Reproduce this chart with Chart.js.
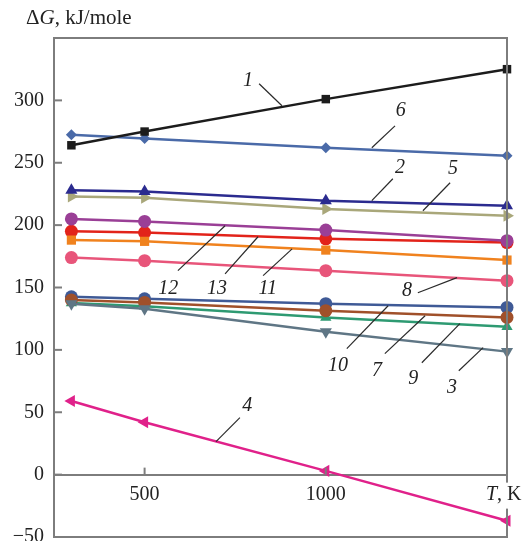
<!DOCTYPE html>
<html>
<head>
<meta charset="utf-8">
<script src="https://cdn.jsdelivr.net/npm/chart.js@4/dist/chart.umd.min.js"></script>
<style>
  html, body { margin: 0; padding: 0; background: #fff; overflow: hidden; }
  #wrap { width: 528px; height: 559px; }
</style>
</head>
<body>
<div id="wrap"><canvas id="gibbsChart" width="528" height="559"></canvas></div>
<script>
// temperatures, K
const temps = [298, 500, 1000, 1500];

// Gibbs energy for each reaction, kJ/mole
const curve1 = [264, 275, 301, 325];
const curve2 = [228, 227, 219.5, 215.5];
const curve3 = [137, 133, 114.6, 98.6];
const curve4 = [59, 42, 3, -37];
const curve5 = [223, 222, 213, 207.5];
const curve6 = [272.5, 269.5, 262, 255.6];
const curve7 = [140, 138, 131.4, 126];
const curve8 = [174, 171.5, 163.5, 155.5];
const curve9 = [137.5, 135, 126, 118.6];
const curve10 = [142.6, 141, 137, 134];
const curve11 = [188, 187, 180, 172];
const curve12 = [205, 203, 196, 187.5];
const curve13 = [195, 194, 189, 186];

const curveNames = ['1', '2', '3', '4', '5', '6', '7', '8', '9', '10', '11', '12', '13'];
const curves = [curve1, curve2, curve3, curve4, curve5, curve6, curve7,
                curve8, curve9, curve10, curve11, curve12, curve13];

const yTicks = [-50, 0, 50, 100, 150, 200, 250, 300];
const xTicks = [500, 1000];

// marker look per curve
const styles = {
    '1':  { color: '#1c1c1c', point: 'rect', rot: 0, r: 6 },
    '2':  { color: '#2b2b8f', point: 'triangle', rot: 0, r: 7 },
    '3':  { color: '#5f7685', point: 'triangle', rot: 180, r: 7 },
    '4':  { color: '#e0218a', point: 'triangle', rot: 270, r: 7 },
    '5':  { color: '#a9a77a', point: 'triangle', rot: 90, r: 7 },
    '6':  { color: '#4a6aa8', point: 'rectRot', rot: 0, r: 5.5 },
    '7':  { color: '#a0502a', point: 'circle', rot: 0, r: 6.5 },
    '8':  { color: '#e8557a', point: 'circle', rot: 0, r: 6.5 },
    '9':  { color: '#2e9a72', point: 'triangle', rot: 0, r: 6.5 },
    '10': { color: '#3f5a96', point: 'circle', rot: 0, r: 6.5 },
    '11': { color: '#f0821e', point: 'rect', rot: 0, r: 6.5 },
    '12': { color: '#9a3f96', point: 'circle', rot: 0, r: 6.5 },
    '13': { color: '#e2231a', point: 'circle', rot: 0, r: 6.5 }
};

// curve number labels, in data units: text spot and leader line ends
const callouts = [
    { text: '1',  t: [785, 315.7],  a: [816, 313.3],  b: [879, 295.7] },
    { text: '6',  t: [1207, 291.7], a: [1191, 279.6], b: [1127, 262] },
    { text: '2',  t: [1205, 246],   a: [1185, 237.2], b: [1127, 219.6] },
    { text: '5',  t: [1351, 245.2], a: [1343, 234],   b: [1268, 211.5] },
    { text: '12', t: [565, 149],    a: [592, 163.5],  b: [722, 199.5] },
    { text: '13', t: [700, 149],    a: [722, 161],    b: [813, 190.7] },
    { text: '11', t: [840, 149],    a: [827, 159.5],  b: [907, 181] },
    { text: '8',  t: [1224, 147.4], a: [1254, 145.8], b: [1362, 157.9] },
    { text: '10', t: [1034, 87.3],  a: [1058, 101],   b: [1172, 135.4] },
    { text: '7',  t: [1141, 83.3],  a: [1163, 97],    b: [1274, 127.4] },
    { text: '9',  t: [1241, 77],    a: [1265, 89.7],  b: [1370, 121] },
    { text: '3',  t: [1348, 69.7],  a: [1367, 83.3],  b: [1434, 101.8] },
    { text: '4',  t: [783, 55.3],   a: [763, 45.7],   b: [697, 26.4] }
];

const serif = '"Liberation Serif", "Times New Roman", serif';
const frameColor = '#7d7d7d';

const framePlugin = {
    id: 'frame',
    afterDraw(chart) {
        const ctx = chart.ctx;
        const area = chart.chartArea;
        const xs = chart.scales.x, ys = chart.scales.y;
        ctx.save();
        // box
        ctx.strokeStyle = frameColor;
        ctx.lineWidth = 2;
        ctx.strokeRect(area.left, area.top, area.right - area.left, area.bottom - area.top);
        // inward ticks
        yTicks.forEach(v => {
            const y = ys.getPixelForValue(v);
            ctx.beginPath();
            ctx.moveTo(area.left, y);
            ctx.lineTo(area.left + 8, y);
            ctx.stroke();
        });
        const y0 = ys.getPixelForValue(0);
        xTicks.forEach(v => {
            const x = xs.getPixelForValue(v);
            ctx.beginPath();
            ctx.moveTo(x, y0);
            ctx.lineTo(x, y0 - 7);
            ctx.stroke();
        });
        // "T, K" at the end of the axis
        ctx.font = 'italic 20px ' + serif;
        const wT = ctx.measureText('T').width;
        ctx.font = '20px ' + serif;
        const wRest = ctx.measureText(', K').width;
        const tx = area.right - 21;
        const ty = y0 + 20;
        ctx.fillStyle = '#fff';
        ctx.fillRect(tx - 1, ty - 12, wT + wRest + 4, 26);
        ctx.fillStyle = '#222';
        ctx.textBaseline = 'middle';
        ctx.textAlign = 'left';
        ctx.font = 'italic 20px ' + serif;
        ctx.fillText('T', tx, ty);
        ctx.font = '20px ' + serif;
        ctx.fillText(', K', tx + wT, ty);
        // title
        ctx.font = '21px ' + serif;
        ctx.fillText('\u0394', 26, 18);
        const wD = ctx.measureText('\u0394').width;
        ctx.font = 'italic 21px ' + serif;
        ctx.fillText('G', 26 + wD, 18);
        const wG = ctx.measureText('G').width;
        ctx.font = '21px ' + serif;
        ctx.fillText(', kJ/mole', 26 + wD + wG, 18);
        // callouts
        ctx.strokeStyle = '#2a2a2a';
        ctx.lineWidth = 1.2;
        ctx.textAlign = 'center';
        ctx.font = 'italic 20px ' + serif;
        callouts.forEach(c => {
            ctx.beginPath();
            ctx.moveTo(xs.getPixelForValue(c.a[0]), ys.getPixelForValue(c.a[1]));
            ctx.lineTo(xs.getPixelForValue(c.b[0]), ys.getPixelForValue(c.b[1]));
            ctx.stroke();
            ctx.fillText(c.text, xs.getPixelForValue(c.t[0]), ys.getPixelForValue(c.t[1]));
        });
        ctx.restore();
    }
};

const ctx = document.getElementById('gibbsChart').getContext('2d');

new Chart(ctx, {
    type: 'line',
    data: {
        datasets: curveNames.map((name, i) => ({
            label: name,
            data: temps.map((t, j) => ({ x: t, y: curves[i][j] })),
            borderColor: styles[name].color,
            backgroundColor: styles[name].color,
            borderWidth: 2.5,
            pointStyle: styles[name].point,
            pointRotation: styles[name].rot,
            pointRadius: styles[name].r,
            pointBorderWidth: 0,
            tension: 0,
            clip: false
        }))
    },
    options: {
        responsive: false,
        animation: false,
        layout: { padding: { left: 0, right: 21, top: 38, bottom: 14 } },
        plugins: {
            legend: { display: false },
            tooltip: { enabled: false }
        },
        scales: {
            x: {
                type: 'linear',
                position: { y: 0 },
                min: 250,
                max: 1500,
                afterBuildTicks: axis => { axis.ticks = xTicks.map(v => ({ value: v })); },
                grid: { display: false },
                border: { display: true, color: frameColor, width: 2 },
                ticks: {
                    font: { family: serif, size: 20 },
                    color: '#222',
                    padding: 0,
                    maxRotation: 0,
                    callback: v => String(v)
                }
            },
            y: {
                type: 'linear',
                min: -50,
                max: 350,
                afterBuildTicks: axis => { axis.ticks = yTicks.map(v => ({ value: v })); },
                afterFit: axis => { axis.width = 54; },
                grid: { display: false, drawTicks: false },
                border: { display: false },
                ticks: {
                    font: { family: serif, size: 20 },
                    color: '#222',
                    padding: 10,
                    callback: v => v < 0 ? '\u2212' + Math.abs(v) : String(v)
                }
            }
        }
    },
    plugins: [framePlugin]
});
</script>
</body>
</html>
